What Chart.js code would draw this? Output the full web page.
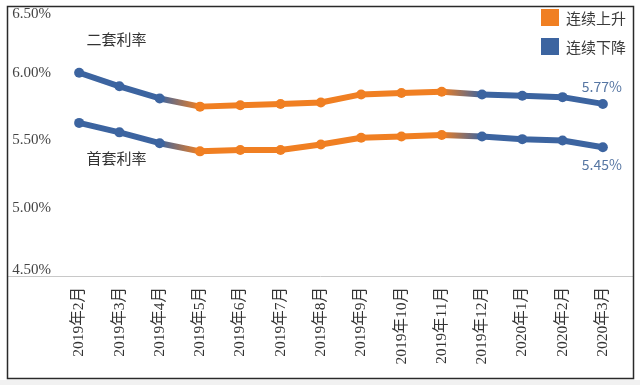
<!DOCTYPE html>
<html>
<head>
<meta charset="utf-8">
<script src="https://cdn.jsdelivr.net/npm/chart.js@4/dist/chart.umd.min.js"></script>
<style>
  html, body { margin: 0; padding: 0; background: #ffffff; }
  #wrap { width: 640px; height: 385px; position: relative; }
</style>
</head>
<body>
<div id="wrap"><canvas id="c" width="640" height="385"></canvas></div>
<script>
// ---- data ----
const categories = ['2019年2月','2019年3月','2019年4月','2019年5月','2019年6月','2019年7月','2019年8月','2019年9月','2019年10月','2019年11月','2019年12月','2020年1月','2020年2月','2020年3月'];
const secondHomeRate = [6.00, 5.90, 5.81, 5.75, 5.76, 5.77, 5.78, 5.84, 5.85, 5.86, 5.84, 5.83, 5.82, 5.77];
const firstHomeRate  = [5.63, 5.56, 5.48, 5.42, 5.43, 5.43, 5.47, 5.52, 5.53, 5.54, 5.53, 5.51, 5.50, 5.45];
const trend = ['down','down','down','up','up','up','up','up','up','up','down','down','down','down'];
const seriesNames = ['二套利率', '首套利率'];
const legendLabels = ['连续上升', '连续下降'];
const yTicks = [4.5, 5.0, 5.5, 6.0, 6.5];
const endLabels = ['5.77%', '5.45%'];

const COLORS = { up: '#f07f22', down: '#3c64a0' };
const SERIF = "'Liberation Serif', 'DejaVu Serif', 'Noto Sans CJK SC', serif";
const SANS = "'Noto Sans CJK SC', 'Noto Sans', sans-serif";

function segColor(ctx) {
  const i0 = ctx.p0DataIndex, i1 = ctx.p1DataIndex;
  const c0 = COLORS[trend[i0]], c1 = COLORS[trend[i1]];
  if (c0 === c1) return c0;
  const g = ctx.chart.ctx.createLinearGradient(ctx.p0.x, 0, ctx.p1.x, 0);
  g.addColorStop(0, c0);
  g.addColorStop(1, c1);
  return g;
}
function ptColor(ctx) { return COLORS[trend[ctx.dataIndex]] || COLORS.down; }

function makeDataset(name, values) {
  return {
    label: name,
    data: values,
    borderWidth: 6,
    borderCapStyle: 'round',
    borderJoinStyle: 'round',
    tension: 0,
    pointRadius: 5,
    pointHoverRadius: 5,
    pointBorderWidth: 0,
    pointBackgroundColor: ptColor,
    pointBorderColor: ptColor,
    borderColor: COLORS.down,
    segment: { borderColor: segColor }
  };
}

const decor = {
  id: 'decor',
  beforeDraw(chart) {
    const c = chart.ctx;
    c.save();
    c.fillStyle = '#ffffff';
    c.fillRect(0, 0, 640, 385);
    c.fillStyle = '#f1f1f1';
    c.fillRect(0, 380, 640, 5);
    c.restore();
  },
  beforeDatasetsDraw(chart) {
    const c = chart.ctx;
    const y = chart.scales.y.getPixelForValue(yTicks[0]);
    c.save();
    c.strokeStyle = '#c8c8c8';
    c.lineWidth = 1;
    c.beginPath();
    c.moveTo(8, Math.round(y) + 0.5);
    c.lineTo(633, Math.round(y) + 0.5);
    c.stroke();
    c.restore();
  },
  afterDraw(chart) {
    const c = chart.ctx;
    const xs = chart.scales.x, ys = chart.scales.y;
    c.save();
    // frame
    c.strokeStyle = '#2a2a2a';
    c.lineWidth = 1.5;
    c.strokeRect(7.5, 6.5, 626, 372);

    // series name annotations
    c.fillStyle = '#333333';
    c.font = '15px ' + SANS;
    c.textAlign = 'center';
    c.textBaseline = 'middle';
    const xn = xs.getPixelForValue(1) - 3;
    c.fillText(seriesNames[0], xn, ys.getPixelForValue(6.25));
    c.fillText(seriesNames[1], xn, ys.getPixelForValue(5.37));

    // end value labels
    const last = categories.length - 1;
    const xl = xs.getPixelForValue(last) - 1;
    c.fillStyle = '#5676a3';
    c.font = '14px ' + SANS;
    c.fillText(endLabels[0], xl, ys.getPixelForValue(secondHomeRate[last]) - 17);
    c.fillText(endLabels[1], xl, ys.getPixelForValue(firstHomeRate[last]) + 17);

    // legend
    const lx = 541;
    const keys = ['up', 'down'];
    c.textAlign = 'left';
    c.font = '15px ' + SANS;
    legendLabels.forEach((t, i) => {
      const ly = 9 + i * 29;
      c.fillStyle = COLORS[keys[i]];
      c.fillRect(lx, ly, 18, 17);
      c.fillStyle = '#3a3a3a';
      c.fillText(t, lx + 25, ly + 9);
    });
    c.restore();
  }
};

new Chart(document.getElementById('c'), {
  type: 'line',
  data: {
    labels: categories,
    datasets: [makeDataset(seriesNames[0], secondHomeRate), makeDataset(seriesNames[1], firstHomeRate)]
  },
  options: {
    responsive: false,
    animation: false,
    devicePixelRatio: 1,
    layout: { padding: { left: 9, right: 17, top: 5, bottom: 8 } },
    plugins: { legend: { display: false }, tooltip: { enabled: false } },
    scales: {
      x: {
        type: 'category',
        offset: true,
        grid: { display: false, drawTicks: false },
        border: { display: false },
        ticks: {
          autoSkip: false,
          minRotation: 90,
          maxRotation: 90,
          padding: 11,
          color: '#333333',
          font: { family: SERIF, size: 15.5 }
        },
        afterFit(s) { s.height = 101; s.paddingLeft = 0; s.paddingRight = 0; }
      },
      y: {
        min: yTicks[0],
        max: yTicks[yTicks.length - 1],
        grid: { display: false, drawTicks: false },
        border: { display: false },
        afterBuildTicks(s) { s.ticks = yTicks.map(v => ({ value: v })); },
        ticks: {
          padding: 8,
          color: '#444444',
          font(ctx) {
            const isMin = ctx.tick && ctx.tick.value === yTicks[0];
            return { family: SERIF, size: 15, lineHeight: isMin ? 0.8 : 1.2 };
          },
          callback(v) {
            const s = Number(v).toFixed(2) + '%';
            if (v === yTicks[yTicks.length - 1]) return ['', s];
            if (v === yTicks[0]) return [s, ''];
            return s;
          }
        },
        afterFit(s) { s.width = 50; s.paddingTop = 0; s.paddingBottom = 0; }
      }
    }
  },
  plugins: [decor]
});
</script>
</body>
</html>
